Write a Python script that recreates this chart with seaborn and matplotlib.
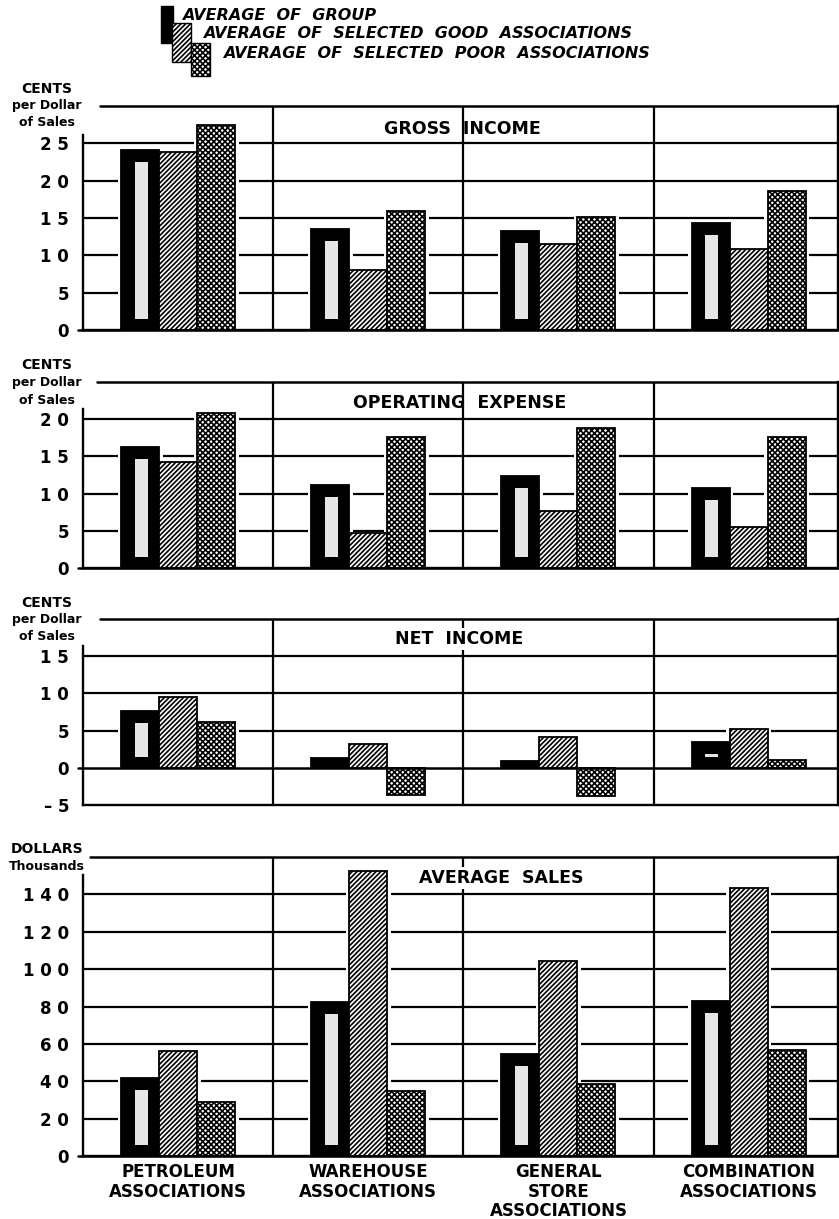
import numpy as np
import pandas as pd
import matplotlib
matplotlib.use("Agg")
import matplotlib.pyplot as plt
import seaborn as sns
from matplotlib.patches import Rectangle

# ---- data ----
categories = ["PETROLEUM\nASSOCIATIONS", "WAREHOUSE\nASSOCIATIONS",
              "GENERAL\nSTORE\nASSOCIATIONS", "COMBINATION\nASSOCIATIONS"]
series = ["AVERAGE  OF  GROUP",
          "AVERAGE  OF  SELECTED  GOOD  ASSOCIATIONS",
          "AVERAGE  OF  SELECTED  POOR  ASSOCIATIONS"]

gross_group = [24.1, 13.5, 13.3, 14.3]
gross_good = [23.8, 8.1, 11.5, 10.8]
gross_poor = [27.4, 15.9, 15.2, 18.6]

opex_group = [16.2, 11.2, 12.3, 10.8]
opex_good = [14.3, 4.7, 7.7, 5.5]
opex_poor = [20.9, 17.6, 18.8, 17.6]

net_group = [7.7, 1.3, 0.9, 3.5]
net_good = [9.5, 3.2, 4.2, 5.2]
net_poor = [6.1, -3.6, -3.8, 1.0]

sales_group = [41.8, 82.2, 54.7, 83.0]
sales_good = [56.3, 152.7, 104.5, 143.6]
sales_poor = [29.1, 34.8, 38.6, 56.8]

gross_ticks = [0, 5, 10, 15, 20, 25]
opex_ticks = [0, 5, 10, 15, 20]
net_ticks = [-5, 0, 5, 10, 15]
sales_ticks = [0, 20, 40, 60, 80, 100, 120, 140]

gross_ticklabels = ["0", "5", "1 0", "1 5", "2 0", "2 5"]
opex_ticklabels = ["0", "5", "1 0", "1 5", "2 0"]
net_ticklabels = ["\u2013 5", "0", "5", "1 0", "1 5"]
sales_ticklabels = ["0", "2 0", "4 0", "6 0", "8 0", "1 0 0", "1 2 0", "1 4 0"]

titles = ["GROSS  INCOME", "OPERATING  EXPENSE", "NET  INCOME", "AVERAGE  SALES"]
unit_cents = ["CENTS", "per Dollar", "of Sales"]
unit_dollars = ["DOLLARS", "Thousands"]


def long_table(group, good, poor):
    return pd.DataFrame({
        "category": categories * 3,
        "series": [series[0]] * 4 + [series[1]] * 4 + [series[2]] * 4,
        "value": group + good + poor,
    })


sns.set_style("white")
plt.rcParams["font.family"] = ["DejaVu Sans"]
plt.rcParams["hatch.linewidth"] = 1.2
plt.rcParams["hatch.color"] = "black"
for k in ["text.color", "axes.labelcolor", "xtick.color", "ytick.color"]:
    plt.rcParams[k] = "black"

W, H = 839, 1219
fig = plt.figure(figsize=(W / 100, H / 100), dpi=100)
fig.patch.set_facecolor("white")

X0, X1 = 83, 838
XMAX = 3.47
ppx = (X1 - X0) / (XMAX + 0.5)  # pixels per category unit


def px_rect(x, y, w, h):
    return [x / W, 1 - (y + h) / H, w / W, h / H]


panels = [
    dict(df=long_table(gross_group, gross_good, gross_poor), top=106, bot=330,
         ylim=(0, 30), ticks=gross_ticks, labels=gross_ticklabels,
         title_x=462, title_y=129, unit=unit_cents, unit_y=[89, 106, 122],
         topline_x=100, spine_px=8, bbox=False),
    dict(df=long_table(opex_group, opex_good, opex_poor), top=382, bot=568,
         ylim=(0, 25), ticks=opex_ticks, labels=opex_ticklabels,
         title_x=460, title_y=403, unit=unit_cents, unit_y=[365, 383, 400],
         topline_x=97, spine_px=10, bbox=False),
    dict(df=long_table(net_group, net_good, net_poor), top=619, bot=805,
         ylim=(-5, 20), ticks=net_ticks, labels=net_ticklabels,
         title_x=459, title_y=639, unit=unit_cents, unit_y=[603, 620, 637],
         topline_x=100, spine_px=10, bbox=True),
    dict(df=long_table(sales_group, sales_good, sales_poor), top=857, bot=1156,
         ylim=(0, 160), ticks=sales_ticks, labels=sales_ticklabels,
         title_x=501, title_y=878, unit=unit_dollars, unit_y=[849, 867],
         topline_x=90, spine_px=19, bbox=True),
]

hatches = [None, "///////", "xxxxxx"]

for i, p in enumerate(panels):
    ax = fig.add_axes(px_rect(X0, p["top"], X1 - X0, p["bot"] - p["top"]))
    ax.set_facecolor("white")
    sns.barplot(data=p["df"], x="category", y="value", hue="series",
                order=categories, hue_order=series,
                palette=["black", "white", "white"], saturation=1,
                width=0.6, errorbar=None, legend=False,
                edgecolor="black", linewidth=1.3, zorder=3, ax=ax)
    ymin, ymax = p["ylim"]
    ax.set_xlim(-0.5, XMAX)
    ax.set_ylim(ymin, ymax)
    ppy = (p["bot"] - p["top"]) / (ymax - ymin)  # pixels per value unit

    for cont, hatch in zip(ax.containers, hatches):
        for bar in cont:
            if hatch:
                bar.set_hatch(hatch)
            # white gap where gridlines meet the bars
            gap = 3.5 / ppx
            ax.add_patch(Rectangle((bar.get_x() - gap, bar.get_y()),
                                   bar.get_width() + 2 * gap, bar.get_height(),
                                   facecolor="white", edgecolor="none", zorder=2))
    # light inner strip of the black bars
    for bar in ax.containers[0]:
        h_px = abs(bar.get_height()) * ppy
        if h_px > 22:
            sw = 13 / ppx
            cx = bar.get_x() + bar.get_width() / 2 + 1 / ppx
            ax.add_patch(Rectangle((cx - sw / 2, bar.get_y() + 11 / ppy), sw,
                                   bar.get_height() - 23 / ppy,
                                   facecolor="#e6e6e6", edgecolor="none", zorder=4))

    # grid / frame
    for t in p["ticks"]:
        if t > ymin and t != 0:
            ax.axhline(t, color="black", lw=1.6, zorder=1)
    ax.plot([-0.5 - 5 / ppx, XMAX], [0, 0], color="black", lw=1.8,
            zorder=5, clip_on=False)
    for xd in [0.5, 1.5, 2.5]:
        ax.axvline(xd, color="black", lw=1.6, zorder=1)
    ax.plot([(p["topline_x"] - X0) / ppx - 0.5, XMAX], [ymax, ymax],
            color="black", lw=1.8, zorder=1, clip_on=False)

    sns.despine(ax=ax, top=True, right=False, left=False, bottom=False)
    for side in ["left", "right", "bottom"]:
        ax.spines[side].set_color("black")
        ax.spines[side].set_linewidth(1.7)
    ax.spines["left"].set_bounds(ymin, p["ticks"][-1] + p["spine_px"] / ppy)

    ax.set_yticks(p["ticks"])
    ax.set_yticklabels(p["labels"], fontsize=12, fontweight="bold")
    ax.tick_params(axis="y", length=0, pad=10)
    ax.set_xlabel("")
    ax.set_ylabel("")
    if i == len(panels) - 1:
        ax.set_xticks(range(len(categories)))
        ax.set_xticklabels(categories, fontsize=12, fontweight="bold",
                           linespacing=1.12)
        ax.tick_params(axis="x", length=0, pad=5)
    else:
        ax.set_xticks([])

    tx = (p["title_x"] - X0) / ppx - 0.5
    ty = (p["bot"] - p["title_y"]) / (p["bot"] - p["top"])
    ax.text(tx, ty, titles[i], transform=ax.get_xaxis_transform(),
            ha="center", va="center", fontsize=12.5, fontweight="bold",
            zorder=6,
            bbox=dict(facecolor="white", edgecolor="none", pad=1.5) if p["bbox"] else None)

    for txt, yy in zip(p["unit"], p["unit_y"]):
        fig.text(47 / W, 1 - yy / H, txt, ha="center", va="center",
                 fontsize=10 if txt.isupper() else 9, fontweight="bold")

# ---- legend (stepped swatches) ----
legend_boxes = [(161, 6, 12, 37, "black", None),
                (172, 23, 19, 39, "white", "///////"),
                (191, 43, 19, 33, "white", "xxxxxx")]
for (x, y, w, h, fc, hatch) in legend_boxes:
    fig.add_artist(Rectangle((x / W, 1 - (y + h) / H), w / W, h / H,
                             transform=fig.transFigure, facecolor=fc,
                             edgecolor="black", lw=1.0, hatch=hatch))
for txt, (x, y) in zip(series, [(182, 15), (203, 33), (223, 53)]):
    fig.text(x / W, 1 - y / H, txt, ha="left", va="center", fontsize=11.5,
             fontweight="bold", fontstyle="italic")

fig.savefig("out.png", dpi=100, facecolor="white")
